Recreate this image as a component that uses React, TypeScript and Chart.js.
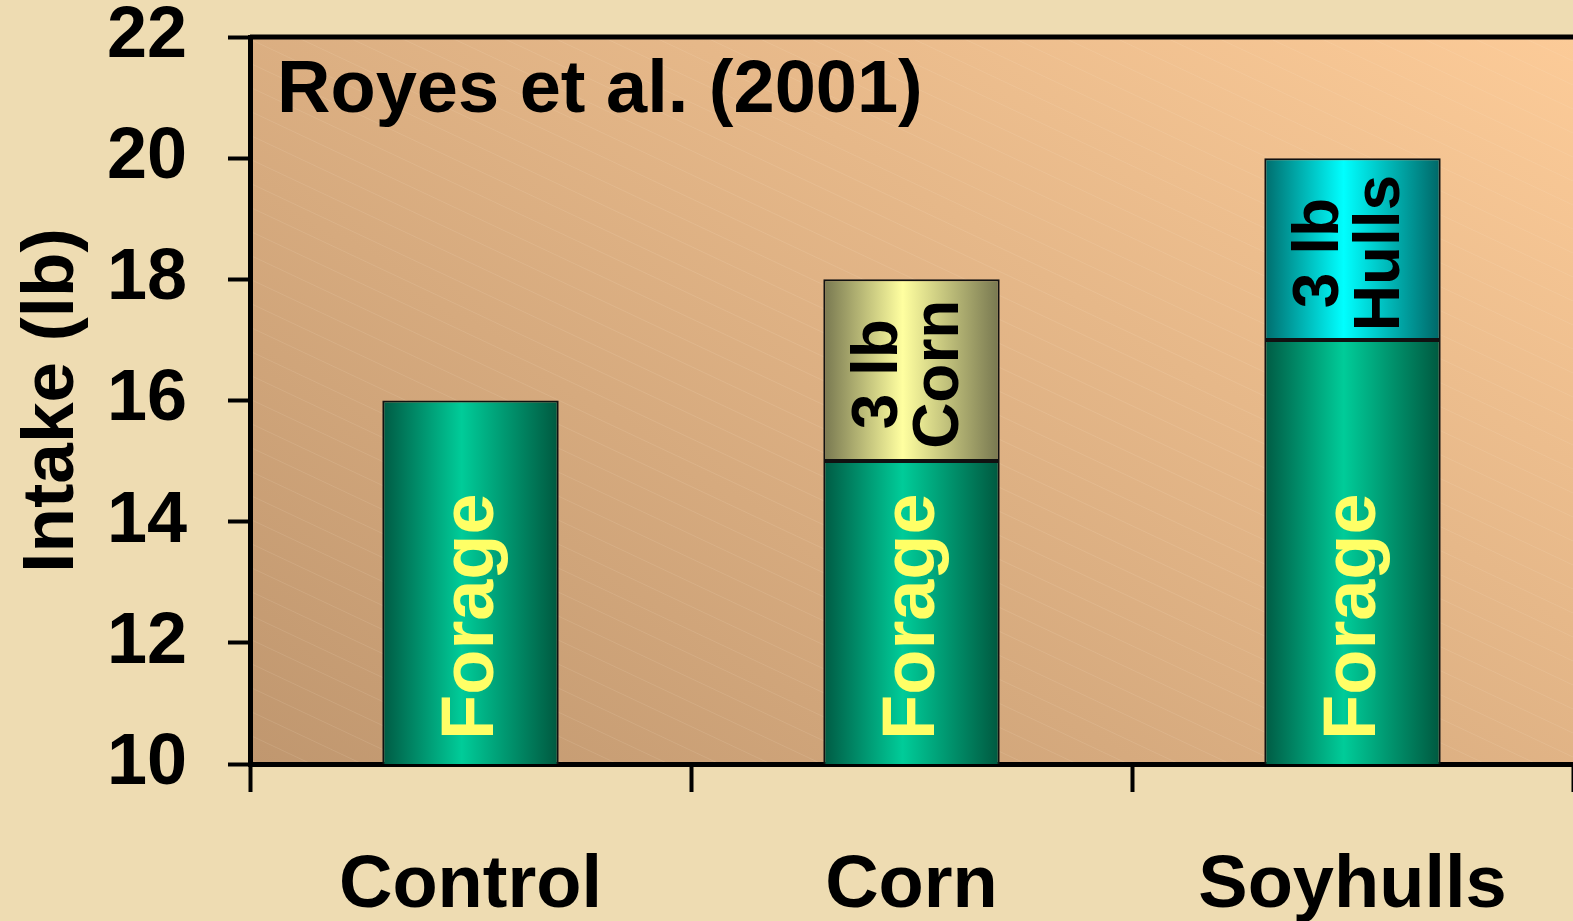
import React, { useEffect, useRef } from "react";
import { Chart, registerables } from "chart.js";

Chart.register(...registerables);

// ---- data ----
const categories = ["Control", "Corn", "Soyhulls"];
const forageValues = [16, 15, 17];
const supplementValues: (number | null)[] = [null, 3, 3];
const supplementLabels: string[][] = [[], ["3 lb", "Corn"], ["3 lb", "Hulls"]];
const forageLabel = "Forage";
const yMin = 10;
const yMax = 22;
const yStep = 2;
const chartTitle = "Royes et al. (2001)";
const yAxisTitle = "Intake (lb)";

const FONT = "'Liberation Sans', Arial, sans-serif";
const BAR_PCT = 0.4;

const forageStops = ["#005a43", "#00cc99", "#00583f"];
const suppStops: string[][] = [
  ["#777750", "#ffffa0", "#777750"],
  ["#777750", "#ffffa0", "#777750"],
  ["#006c6c", "#00ffff", "#006666"],
];

function barGradient(c: any, stops: string[]) {
  const chart = c.chart;
  const xs = chart.scales?.x;
  const area = chart.chartArea;
  if (!xs || !area) return stops[1];
  const cx = xs.getPixelForValue(c.dataIndex);
  const w = ((area.right - area.left) / categories.length) * BAR_PCT;
  const g = chart.ctx.createLinearGradient(cx - w / 2, 0, cx + w / 2, 0);
  g.addColorStop(0, stops[0]);
  g.addColorStop(0.45, stops[1]);
  g.addColorStop(1, stops[2]);
  return g;
}

const backgroundPlugin = {
  id: "bgPlugin",
  beforeDraw(chart: any) {
    const { ctx, width, height, chartArea: a } = chart;
    ctx.save();
    ctx.fillStyle = "#eedcb2";
    ctx.fillRect(0, 0, width, height);
    // plot area gradient
    const span = 1336;
    const ux = 0.552, uy = -0.834;
    const g = ctx.createLinearGradient(a.left, a.bottom, a.left + ux * span, a.bottom + uy * span);
    g.addColorStop(0, "#c0976f");
    g.addColorStop(1, "#fccb98");
    ctx.fillStyle = g;
    ctx.fillRect(a.left, a.top, a.right - a.left, a.bottom - a.top);
    // faint diagonal lines
    ctx.beginPath();
    ctx.rect(a.left, a.top, a.right - a.left, a.bottom - a.top);
    ctx.clip();
    ctx.strokeStyle = "rgba(255,235,210,0.12)";
    ctx.lineWidth = 1;
    const slope = 0.47;
    const w = a.right - a.left;
    for (let y0 = a.top - w * slope; y0 < a.bottom; y0 += 24) {
      ctx.beginPath();
      ctx.moveTo(a.left, y0);
      ctx.lineTo(a.right, y0 + w * slope);
      ctx.stroke();
    }
    ctx.restore();
  },
};

const overlayPlugin = {
  id: "overlayPlugin",
  afterDatasetsDraw(chart: any) {
    const { ctx, chartArea: a } = chart;
    ctx.save();
    // Forage labels
    const m0 = chart.getDatasetMeta(0);
    ctx.font = `bold 74px ${FONT}`;
    ctx.fillStyle = "#ffff66";
    ctx.textBaseline = "middle";
    ctx.textAlign = "left";
    m0.data.forEach((el: any) => {
      ctx.save();
      ctx.translate(el.x + 2, a.bottom - 24);
      ctx.rotate(-Math.PI / 2);
      ctx.fillText(forageLabel, 0, 0);
      ctx.restore();
    });
    // Supplement labels
    const m1 = chart.getDatasetMeta(1);
    ctx.font = `bold 64px ${FONT}`;
    ctx.fillStyle = "#000";
    ctx.textAlign = "center";
    m1.data.forEach((el: any, i: number) => {
      const lines = supplementLabels[i];
      if (!lines || !lines.length || supplementValues[i] == null) return;
      const cy = (el.y + el.base) / 2 + 4;
      const offs = [-32, 29];
      lines.forEach((t, k) => {
        ctx.save();
        ctx.translate(el.x + offs[k], cy);
        ctx.rotate(-Math.PI / 2);
        ctx.fillText(t, 0, 0);
        ctx.restore();
      });
    });
    ctx.restore();
  },
  afterDraw(chart: any) {
    const { ctx, chartArea: a } = chart;
    ctx.save();
    // top frame line
    ctx.strokeStyle = "#000";
    ctx.lineWidth = 5;
    ctx.beginPath();
    ctx.moveTo(a.left, a.top);
    ctx.lineTo(a.right, a.top);
    ctx.stroke();
    // title
    ctx.font = `bold 74px ${FONT}`;
    ctx.fillStyle = "#000";
    ctx.textAlign = "left";
    ctx.textBaseline = "alphabetic";
    ctx.fillText(chartTitle, a.left + 27, a.top + 75);
    ctx.restore();
  },
};

export default function App() {
  const ref = useRef<HTMLCanvasElement | null>(null);
  useEffect(() => {
    document.body.style.margin = "0";
    const canvas = ref.current;
    if (!canvas) return;
    const chart = new Chart(canvas, {
      type: "bar",
      data: {
        labels: categories,
        datasets: [
          {
            label: "Forage",
            data: forageValues,
            backgroundColor: (c: any) => barGradient(c, forageStops),
            borderColor: "#111",
            borderWidth: 2,
            borderSkipped: false,
            barPercentage: BAR_PCT,
            categoryPercentage: 1,
          },
          {
            label: "Supplement",
            data: supplementValues,
            backgroundColor: (c: any) => barGradient(c, suppStops[c.dataIndex] || suppStops[0]),
            borderColor: "#111",
            borderWidth: 2,
            borderSkipped: false,
            barPercentage: BAR_PCT,
            categoryPercentage: 1,
          },
        ],
      },
      options: {
        responsive: false,
        animation: false,
        layout: { padding: { top: 37, left: 0, right: 0, bottom: 0 } },
        plugins: {
          legend: { display: false },
          tooltip: { enabled: false },
          title: { display: false },
        },
        scales: {
          x: {
            stacked: true,
            offset: true,
            grid: {
              display: true,
              offset: true,
              drawOnChartArea: false,
              drawTicks: true,
              tickLength: 28,
              tickWidth: 4,
              tickColor: (c: any) => (c.index >= categories.length ? "rgba(0,0,0,0)" : "#000"),
            },
            border: { display: true, color: "#000", width: 5 },
            ticks: {
              color: "#000",
              font: { family: FONT, size: 74, weight: "bold" },
              padding: 50,
              maxRotation: 0,
              autoSkip: false,
            },
            afterFit: (s: any) => {
              s.height = 157;
              s.paddingLeft = 0;
              s.paddingRight = 0;
            },
          },
          y: {
            stacked: true,
            min: yMin,
            max: yMax,
            grid: {
              display: true,
              drawOnChartArea: false,
              drawTicks: true,
              tickLength: 22,
              tickWidth: 4,
              tickColor: "#000",
            },
            border: { display: true, color: "#000", width: 5 },
            ticks: {
              stepSize: yStep,
              color: "#000",
              font: { family: FONT, size: 72, weight: "bold" },
              padding: 41,
            },
            title: {
              display: true,
              text: yAxisTitle,
              color: "#000",
              font: { family: FONT, size: 73, weight: "bold" },
              padding: { top: 9, bottom: 0 },
            },
            afterFit: (s: any) => {
              s.width = 250;
              s.paddingTop = 0;
              s.paddingBottom = 0;
            },
          },
        },
      } as any,
      plugins: [backgroundPlugin, overlayPlugin],
    });
    return () => chart.destroy();
  }, []);
  return (
    <div style={{ width: 1573, height: 921 }}>
      <canvas ref={ref} width={1573} height={921} style={{ display: "block" }} />
    </div>
  );
}
